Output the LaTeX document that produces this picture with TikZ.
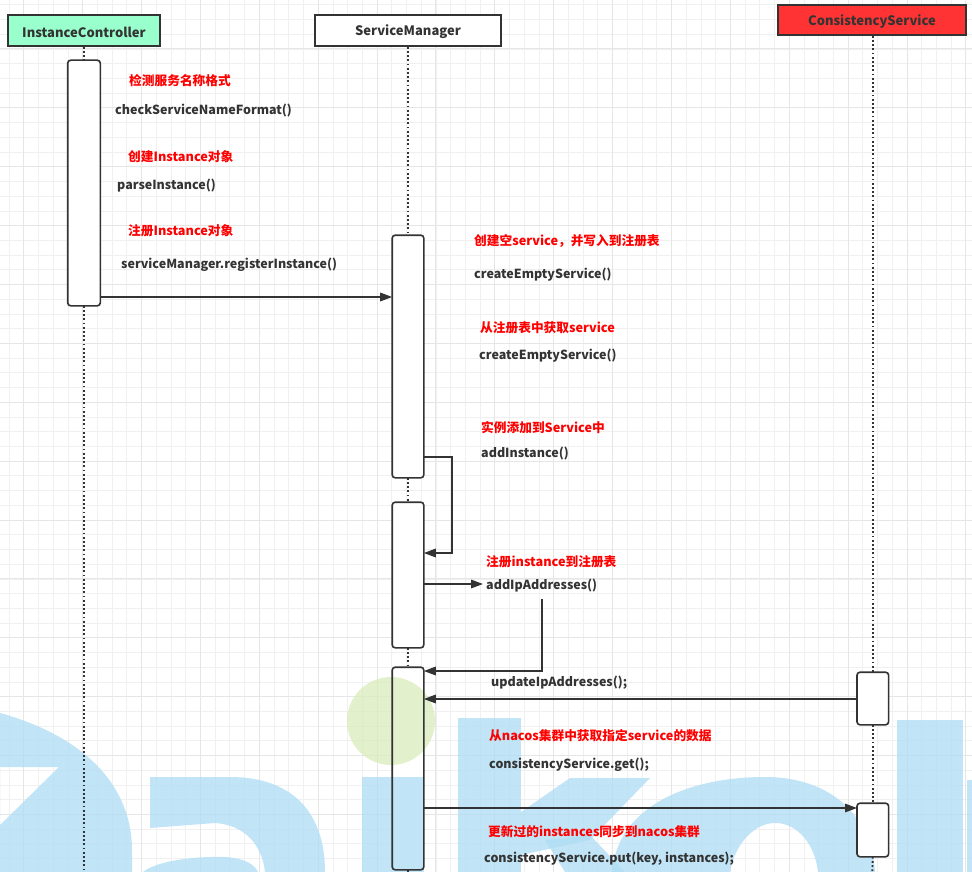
\documentclass[tikz,border=0pt]{standalone}
\usepackage{fontspec}
\setmainfont{Noto Sans CJK SC}
\usetikzlibrary{arrows.meta,calc}
\definecolor{mint}{HTML}{99FFCC}
\definecolor{csred}{HTML}{FF3333}
\definecolor{ink}{HTML}{333333}
\definecolor{gridminor}{HTML}{F0F0F0}
\definecolor{gridmajor}{HTML}{E6E6E6}
\definecolor{wmblue}{RGB}{176,222,245}
\definecolor{wmgreen}{RGB}{220,236,190}
\definecolor{notered}{HTML}{FF0000}
\newcommand\codefont{\bfseries\fontsize{12.5}{15}\selectfont}
\newcommand\notefont{\bfseries\fontsize{12.7}{15}\selectfont}
\newcommand\hdrfont{\bfseries\fontsize{13}{15}\selectfont}
\newcommand\hdrtext[2]{\raisebox{#1}[\height][\depth]{#2}}
\tikzset{
  hdr/.style={draw=ink, line width=1.6pt, rectangle, inner sep=0pt, text=ink, font=\hdrfont},
  actbox/.style={rectangle, rounded corners=3pt, minimum width=30pt, inner sep=0pt, line width=1.6pt},
  life/.style={draw=ink, line width=1.8pt, dash pattern=on 1.8pt off 2.4pt},
  msg/.style={draw=ink, line width=1.6pt, -{Triangle[length=12pt,width=8.5pt]}},
  code/.style={anchor=west, inner sep=0pt, text=ink, font=\codefont, yshift=-1.5pt},
  note/.style={anchor=west, inner sep=0pt, text=notered, font=\notefont, yshift=-1pt},
  minorgrid/.style={draw=gridminor, line width=0.8pt},
  majorgrid/.style={draw=gridmajor, line width=1pt}
}
\begin{document}
\begin{tikzpicture}[x=1pt, y=-1pt]
\useasboundingbox (0,0) rectangle (972,872);
\fill[white] (0,0) rectangle (972,872);
% grid
\foreach \i in {0,...,65} {\pgfmathsetmacro\xx{9.08+\i*14.72}\draw[minorgrid] (\xx,0) -- (\xx,872);}
\foreach \j in {0,...,58} {\pgfmathsetmacro\yy{4.84+\j*14.72}\draw[minorgrid] (0,\yy) -- (972,\yy);}
\foreach \i in {0,...,16} {\pgfmathsetmacro\xx{23.8+\i*58.88}\draw[majorgrid] (\xx,0) -- (\xx,872);}
\foreach \j in {0,...,13} {\pgfmathsetmacro\yy{49+\j*58.88}\draw[majorgrid] (0,\yy) -- (972,\yy);}

% activation boxes (positions)
\node[actbox, minimum width=31pt, minimum height=244pt] (ic1) at (84,183) {};
\node[actbox, minimum height=241pt] (sm1) at (408,356.5) {};
\node[actbox, minimum height=144pt] (sm2) at (408,575) {};
\node[actbox, minimum height=201pt] (sm3) at (408,768.5) {};
\node[actbox, minimum height=51pt] (cs1) at (872.8,698.5) {};
\node[actbox, minimum height=52pt] (cs2) at (872.8,830) {};

% white fill of ServiceManager boxes (under watermark)
\foreach \b in {sm1,sm2,sm3} {\fill[white, rounded corners=3pt] (\b.north west) rectangle (\b.south east);}

% watermark
\begin{scope}[opacity=0.78]
\fill[wmblue, even odd rule] (0,713) .. controls (90,738) and (132,790) .. (132,850) -- (132,872) -- (0,872) -- cycle
  (0,767) -- (59,767) -- (0,825) -- cycle;
\fill[wmblue] (150,777) -- (230,777) .. controls (295,777) and (325,815) .. (325,872) -- (265,872)
  .. controls (262,845) and (245,825) .. (215,823) -- (150,828) -- cycle;
\fill[wmblue] (143,872) .. controls (155,862) and (190,856) .. (225,857) .. controls (245,858) and (255,865) .. (258,872) -- cycle;
\fill[wmblue] (362,777) rectangle (424,872);
\fill[wmgreen] (391,721) circle[radius=44];
\fill[wmblue] (458,718) rectangle (521,872);
\fill[wmblue] (521,812) -- (570,778) -- (650,778) -- (590,840) -- (521,855) -- cycle;
\fill[wmblue] (545,840) -- (590,835) -- (625,872) -- (565,872) -- cycle;
\fill[wmblue, even odd rule] (612,872) .. controls (618,805) and (690,777) .. (765,777) .. controls (835,777) and (872,820) .. (875,872) -- cycle
  (730,872) .. controls (735,843) and (755,823) .. (775,823) .. controls (798,823) and (815,845) .. (818,872) -- cycle;
\fill[wmblue] (897,720) rectangle (963,872);
\fill[wmblue] (967,780) rectangle (972,872);
\end{scope}

% box outlines
\draw[ink, line width=1.6pt, fill=white, rounded corners=3pt] (ic1.north west) rectangle (ic1.south east);
\foreach \b in {sm1,sm2,sm3} {\draw[ink, line width=1.6pt, rounded corners=3pt] (\b.north west) rectangle (\b.south east);}
\foreach \b in {cs1,cs2} {\draw[ink, line width=1.6pt, fill=white, rounded corners=3pt] (\b.north west) rectangle (\b.south east);}

% headers
\node[hdr, fill=mint, minimum width=152pt, minimum height=31pt] (ich) at (84,30.5) {\hdrtext{-1.5pt}{InstanceController}};
\node[hdr, fill=white, minimum width=186pt, minimum height=31pt] (smh) at (408,30.5) {\hdrtext{-1.5pt}{ServiceManager}};
\node[hdr, fill=csred, minimum width=188pt, minimum height=30pt] (csh) at (872,20) {\hdrtext{-2pt}{ConsistencyService}};

% lifelines
\coordinate (icBot) at (84,872);
\coordinate (smBot) at (408,872);
\coordinate (csBot) at (872.3,872);
\draw[life] (ich.south) -- (ic1.north);
\draw[life] (ic1.south) -- (icBot);
\draw[life] (smh.south) -- (sm1.north);
\draw[life] (sm1.south) -- (sm2.north);
\draw[life] (sm2.south) -- (sm3.north);
\draw[life] (sm3.south) -- (smBot);
\draw[life] (csh.south -| cs1.north) -- (cs1.north);
\draw[life] (cs1.south) -- (cs2.north);
\draw[life] (cs2.south) -- (csBot);

% texts
\node[note] (t1) at (129,80) {检测服务名称格式};
\node[code] (t2) at (115,109) {checkServiceNameFormat()};
\node[note] (t3) at (128,156) {创建Instance对象};
\node[code] (t4) at (117,184) {parseInstance()};
\node[note] (t5) at (128,230) {注册Instance对象};
\node[code] (t6) at (121,263) {serviceManager.registerInstance()};
\node[note] (t7) at (474,240) {创建空service，并写入到注册表};
\node[code] (t8) at (474,273) {createEmptyService()};
\node[note] (t9) at (480,327) {从注册表中获取service};
\node[code] (t10) at (479,354) {createEmptyService()};
\node[note] (t11) at (481,427) {实例添加到Service中};
\node[code] (t12) at (481,452) {addInstance()};
\node[note] (t13) at (486,561) {注册instance到注册表};
\node[code] (aip) at (486,584) {addIpAddresses()};
\node[code] (t15) at (491,681) {updateIpAddresses();};
\node[note] (t16) at (489,735) {从nacos集群中获取指定service的数据};
\node[code] (t17) at (489,763) {consistencyService.get();};
\node[note] (t18) at (488,831) {更新过的instances同步到nacos集群};
\node[code] (t19) at (484,857) {consistencyService.put(key, instances);};

% messages
\draw[msg] (ic1.east |- 0,297) -- (sm1.west |- 0,297);
\coordinate (selfTurn) at (452,553);
\draw[msg] (sm1.east |- 0,457) -| (selfTurn) -- (sm2.east |- selfTurn);
\coordinate (aipIn) at (483,584);
\draw[msg] (sm2.east |- aipIn) -- (aipIn);
\coordinate (updStart) at (542,599);
\draw[msg] (updStart) |- (sm3.east |- 0,671);
\draw[msg] (cs1.west |- 0,699) -- (sm3.east |- 0,699);
\draw[msg] (sm3.east |- 0,808) -- (cs2.west |- 0,808);
\end{tikzpicture}
\end{document}
